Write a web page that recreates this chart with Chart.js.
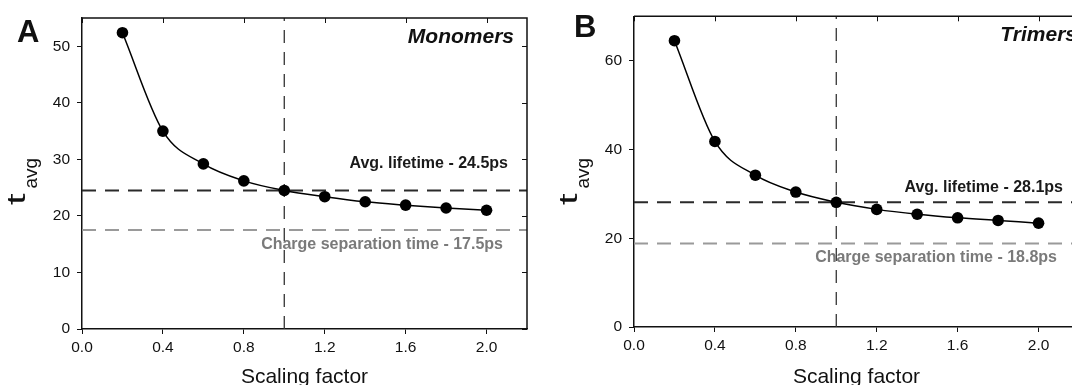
<!DOCTYPE html>
<html>
<head>
<meta charset="utf-8">
<script src="https://cdn.jsdelivr.net/npm/chart.js@4.4.1/dist/chart.umd.min.js"></script>
<style>
  html, body { margin: 0; padding: 0; background: #fff; overflow: hidden; width: 1072px; height: 385px; }
  canvas { position: absolute; top: 0; }
  #cA { left: 0; }
  #cB { left: 552px; }
</style>
</head>
<body>
<canvas id="cA" width="540" height="385"></canvas>
<canvas id="cB" width="540" height="385"></canvas>
<script>
// ---- data ----
const scalingFactors = [0.2, 0.4, 0.6, 0.8, 1.0, 1.2, 1.4, 1.6, 1.8, 2.0];
const monomerTavg = [52.4, 35.0, 29.2, 26.2, 24.5, 23.4, 22.5, 21.9, 21.4, 21.0];
const trimerTavg  = [64.5, 41.8, 34.2, 30.4, 28.1, 26.5, 25.4, 24.6, 24.0, 23.4];
const monomerAvgLifetime = 24.5;
const monomerChargeSep = 17.5;
const trimerAvgLifetime = 28.1;
const trimerChargeSep = 18.8;
const referenceScaling = 1.0;
const xTickValues = [0.0, 0.4, 0.8, 1.2, 1.6, 2.0];
const yTickValuesA = [0, 10, 20, 30, 40, 50];
const yTickValuesB = [0, 20, 40, 60];
const xRange = [0, 2.2];
const yRangeA = [0, 55];
const yRangeB = [0, 70];

const FONT = "'Liberation Sans', Arial, Helvetica, sans-serif";

const framePlugin = {
  id: 'frame',
  afterDraw(chart, args, o) {
    const { ctx, chartArea: a, scales: { x, y } } = chart;
    ctx.save();
    ctx.strokeStyle = '#111';
    ctx.lineWidth = 1.5;
    ctx.beginPath();
    ctx.moveTo(a.left, a.top); ctx.lineTo(a.right, a.top); ctx.lineTo(a.right, a.bottom);
    ctx.stroke();
    ctx.lineWidth = 1;
    ctx.beginPath();
    x.ticks.forEach(t => { const px = Math.round(x.getPixelForValue(t.value)) + 0.5; ctx.moveTo(px, a.top); ctx.lineTo(px, a.top + 5); });
    y.ticks.forEach(t => { const py = Math.round(y.getPixelForValue(t.value)) + 0.5; ctx.moveTo(a.right, py); ctx.lineTo(a.right - 5, py); });
    ctx.stroke();

    // panel letter
    ctx.fillStyle = '#111';
    ctx.textBaseline = 'alphabetic';
    ctx.textAlign = 'left';
    ctx.font = `bold 31px ${FONT}`;
    ctx.fillText(o.letter, o.letterX, o.letterY);

    // panel title
    ctx.font = `italic bold 21px ${FONT}`;
    ctx.textAlign = 'right';
    ctx.textBaseline = 'middle';
    ctx.fillText(o.title, a.right + o.titleDX, a.top + o.titleDY);

    // annotations
    ctx.font = `bold 16px ${FONT}`;
    ctx.fillStyle = '#1a1a1a';
    ctx.fillText(o.avgText, a.right + o.avgDX, y.getPixelForValue(o.avgValue) + o.avgDY);
    ctx.fillStyle = '#7a7a7a';
    ctx.fillText(o.csText, a.right + o.csDX, y.getPixelForValue(o.csValue) + o.csDY);

    // x title
    ctx.fillStyle = '#111';
    ctx.textAlign = 'center';
    ctx.font = `21px ${FONT}`;
    ctx.fillText('Scaling factor', (a.left + a.right) / 2, o.xTitleY);

    // y title t_avg (rotated)
    ctx.translate(o.yTitleX, o.yTitleY);
    ctx.rotate(-Math.PI / 2);
    ctx.textAlign = 'left';
    ctx.textBaseline = 'alphabetic';
    ctx.font = `26px ${FONT}`;
    const stretch = 1.6;
    const tw = ctx.measureText('t').width * stretch;
    ctx.save();
    ctx.scale(stretch, 1);
    ctx.fillText('t', 0, 0);
    ctx.restore();
    ctx.font = `19px ${FONT}`;
    ctx.fillText('avg', tw + 5, 12);
    ctx.restore();
  }
};

function refLine(value, color, width, dash) {
  return {
    data: [{ x: xRange[0], y: value }, { x: xRange[1], y: value }],
    borderColor: color, borderWidth: width, borderDash: dash,
    pointRadius: 0, order: 2, fill: false
  };
}

function makeChart(id, values, avg, cs, yRange, yTicks, pad, xAxisH, frameOpts) {
  const data = {
    datasets: [
      {
        data: scalingFactors.map((s, i) => ({ x: s, y: values[i] })),
        borderColor: '#000', borderWidth: 1.5,
        cubicInterpolationMode: 'monotone',
        pointRadius: 5.8, pointBackgroundColor: '#000', pointBorderColor: '#000', pointBorderWidth: 0,
        order: 0, fill: false
      },
      refLine(avg, '#2a2a2a', 2, [14, 9]),
      refLine(cs, '#9a9a9a', 2, [14, 9]),
      {
        data: [{ x: referenceScaling, y: yRange[0] }, { x: referenceScaling, y: yRange[1] }],
        borderColor: '#333', borderWidth: 1.3, borderDash: [13, 9],
        pointRadius: 0, order: 1, fill: false
      }
    ]
  };
  return new Chart(document.getElementById(id), {
    type: 'line',
    data,
    plugins: [framePlugin],
    options: {
      responsive: false, animation: false, devicePixelRatio: 1,
      layout: { padding: { top: pad.top, right: pad.right, left: 0, bottom: 0 } },
      plugins: { legend: { display: false }, tooltip: { enabled: false }, frame: frameOpts },
      scales: {
        x: {
          type: 'linear', min: xRange[0], max: xRange[1],
          afterBuildTicks: s => { s.ticks = xTickValues.map(v => ({ value: v })); },
          afterFit: s => { s.height = xAxisH; },
          grid: { display: true, drawOnChartArea: false, drawTicks: true, tickLength: 5, color: '#111', lineWidth: 1 },
          border: { display: true, color: '#111', width: 1.5 },
          ticks: { padding: 4, color: '#111', font: { family: FONT, size: 15.5 }, maxRotation: 0, callback: v => Number(v).toFixed(1) }
        },
        y: {
          type: 'linear', min: yRange[0], max: yRange[1],
          afterBuildTicks: s => { s.ticks = yTicks.map(v => ({ value: v })); },
          afterFit: s => { s.width = 82; },
          grid: { display: true, drawOnChartArea: false, drawTicks: true, tickLength: 5, color: '#111', lineWidth: 1 },
          border: { display: true, color: '#111', width: 1.5 },
          ticks: { padding: 7, color: '#111', font: { family: FONT, size: 15.5 }, callback: v => String(v) }
        }
      }
    }
  });
}

makeChart('cA', monomerTavg, monomerAvgLifetime, monomerChargeSep, yRangeA, yTickValuesA,
  { top: 18, right: 13 }, 56,
  { letter: 'A', letterX: 17, letterY: 42, title: 'Monomers', titleDX: -13, titleDY: 19,
    avgText: 'Avg. lifetime - 24.5ps', avgValue: monomerAvgLifetime, avgDX: -19, avgDY: -27,
    csText: 'Charge separation time - 17.5ps', csValue: monomerChargeSep, csDX: -24, csDY: 15,
    xTitleY: 377, yTitleX: 25, yTitleY: 205 });

makeChart('cB', trimerTavg, trimerAvgLifetime, trimerChargeSep, yRangeB, yTickValuesB,
  { top: 14, right: 13 }, 58,
  { letter: 'B', letterX: 22, letterY: 37, title: 'Trimers', titleDX: -2, titleDY: 19,
    avgText: 'Avg. lifetime - 28.1ps', avgValue: trimerAvgLifetime, avgDX: -16, avgDY: -15,
    csText: 'Charge separation time - 18.8ps', csValue: trimerChargeSep, csDX: -22, csDY: 14,
    xTitleY: 377, yTitleX: 25, yTitleY: 205 });
</script>
</body>
</html>
